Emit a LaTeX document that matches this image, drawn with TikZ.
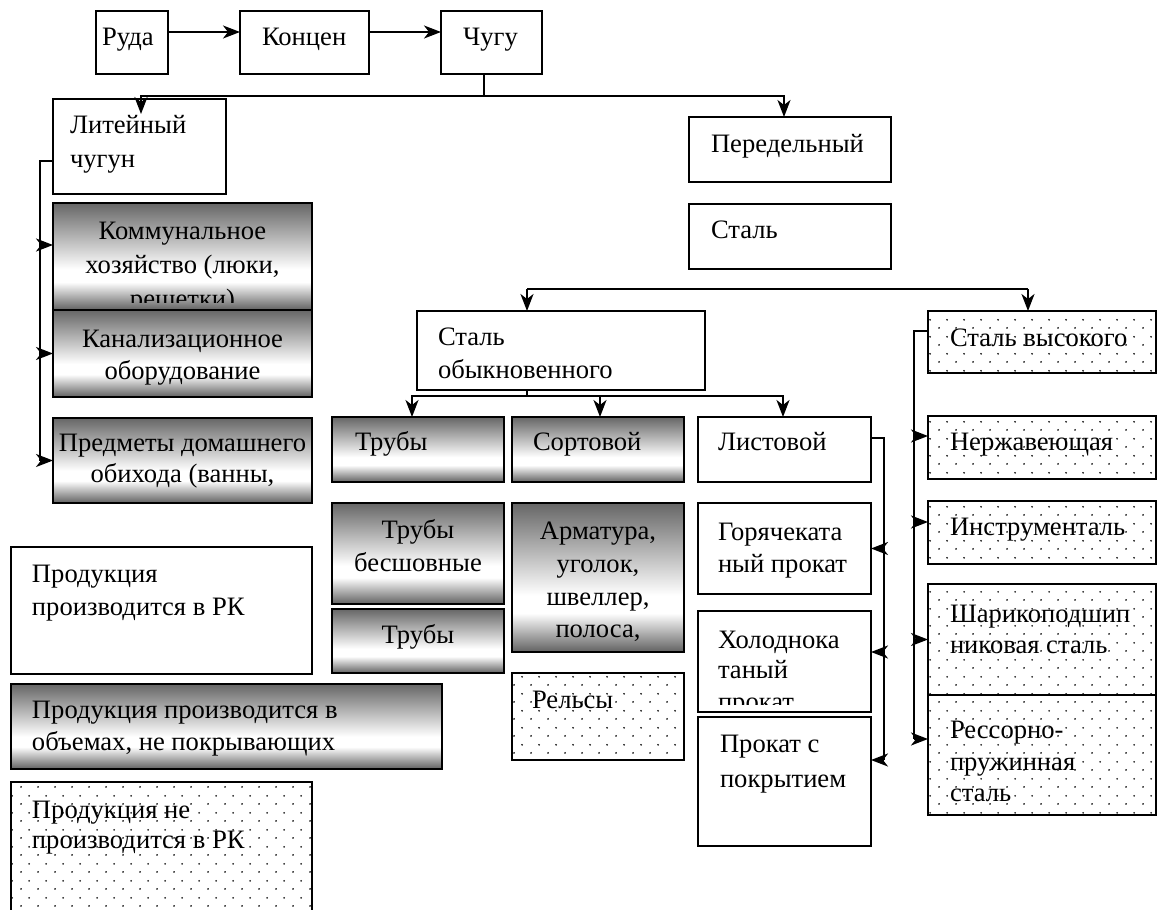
\documentclass[tikz,border=0pt]{standalone}
\usepackage{fontspec}
\setmainfont{Liberation Serif}
\usetikzlibrary{arrows.meta,patterns,fit,calc}
\pgfdeclarepatternformonly{wdots}{\pgfqpoint{0pt}{0pt}}{\pgfqpoint{8.5pt}{8.5pt}}{\pgfqpoint{8.5pt}{8.5pt}}{%
  \pgfpathcircle{\pgfqpoint{2.125pt}{2.125pt}}{0.5pt}%
  \pgfpathcircle{\pgfqpoint{6.375pt}{6.375pt}}{0.5pt}%
  \pgfusepath{fill}}
\pgfdeclareverticalshading{metal}{100bp}{color(0bp)=(black!62); color(25bp)=(black!62); color(38bp)=(white); color(44bp)=(white); color(75bp)=(black!60); color(100bp)=(black!60)}
\tikzset{
  box/.style={draw=black, line width=1.2pt, inner sep=0pt, outer sep=0pt},
  plainbox/.style={box, fill=white},
  metalbox/.style={box, shade, shading=metal},
  dotbox/.style={box, pattern=wdots},
  conn/.style={line width=1pt},
  arr/.style={conn, -{Stealth[length=8.5pt,width=6.5pt,inset=2.5pt]}},
  txt/.style={inner sep=0pt, outer sep=0pt, font=\fontsize{13.3}{16}\selectfont},
}
\newcommand{\txtL}[4]{\node[txt, anchor=base west] (#1) at (#2,#3) {#4};}
\newcommand{\txtC}[4]{\node[txt, anchor=base] (#1) at (#2,#3) {#4};}
\begin{document}
\begin{tikzpicture}[x=0.5pt,y=-0.5pt]
\fill[white] (0,0) rectangle (1157,910);
\useasboundingbox (0,0) rectangle (1157,910);

% ---------- boxes ----------
\node[plainbox, fit={(96,11) (168,74)}] (ruda) {};
\node[plainbox, fit={(240,11) (369,74)}] (konc) {};
\node[plainbox, fit={(441,11) (542,74)}] (chugu) {};
\node[plainbox, fit={(53,99) (226,194)}] (lit) {};
\node[metalbox, fit={(53,203) (312,310)}] (komm) {};
\node[metalbox, fit={(53,310) (312,397)}] (kanal) {};
\node[metalbox, fit={(53,418) (312,503)}] (predm) {};
\node[plainbox, fit={(689,117) (891,182)}] (pered) {};
\node[plainbox, fit={(689,204) (891,269)}] (stal) {};
\node[plainbox, fit={(417,311) (705,390)}] (obyk) {};
\node[metalbox, fit={(332,417) (504,482)}] (truby) {};
\node[metalbox, fit={(512,417) (684,482)}] (sort) {};
\node[plainbox, fit={(698,417) (871,482)}] (list) {};
\node[metalbox, fit={(332,503) (504,604)}] (besh) {};
\node[metalbox, fit={(332,609) (504,673)}] (truby2) {};
\node[metalbox, fit={(512,503) (684,652)}] (armat) {};
\node[dotbox, fit={(512,673) (684,760)}] (rels) {};
\node[plainbox, fit={(698,503) (871,594)}] (gor) {};
\node[plainbox, fit={(698,611) (871,712)}] (hol) {};
\node[plainbox, fit={(698,717) (871,846)}] (pokr) {};
\node[dotbox, fit={(928,311) (1156,373)}] (vys) {};
\node[dotbox, fit={(928,416) (1156,479)}] (nerzh) {};
\node[dotbox, fit={(928,501) (1156,564)}] (instr) {};
\node[dotbox, fit={(928,584) (1156,695)}] (shar) {};
\node[dotbox, fit={(928,695) (1156,815)}] (ress) {};
\node[plainbox, fit={(11,547) (312,674)}] (leg1) {};
\node[metalbox, fit={(11,684) (442,769)}] (leg2) {};
\node[box, draw=none, pattern=wdots, fit={(11,782) (312,914)}] (leg3) {};
\draw[line width=1.2pt] (leg3.south west) -- (leg3.north west) -- (leg3.north east) -- (leg3.south east);

% ---------- texts ----------
\txtL{t1}{102}{46}{Руда}
\txtL{t2}{262}{46}{Концен}
\txtL{t3}{463}{46}{Чугу}
\txtL{t4}{70}{133}{Литейный}
\txtL{t5}{70}{167}{чугун}
\txtC{t6}{182.5}{239}{Коммунальное}
\txtC{t7}{182.5}{273}{хозяйство (люки,}
\begin{scope}
\clip (53,203) rectangle (312,302);
\txtC{t8}{182.5}{307}{решетки)}
\end{scope}
\txtC{t9}{182.5}{347}{Канализационное}
\txtC{t10}{182.5}{379}{оборудование}
\txtC{t11}{182.5}{451}{Предметы домашнего}
\txtC{t12}{182.5}{482}{обихода (ванны,}
\txtL{t13}{711}{152}{Передельный}
\txtL{t14}{711}{238}{Сталь}
\txtL{t15}{438}{345}{Сталь}
\txtL{t16}{438}{378}{обыкновенного}
\txtL{t17}{355}{450}{Трубы}
\txtL{t18}{533}{450}{Сортовой}
\txtL{t19}{718}{450}{Листовой}
\txtC{t20}{418}{538}{Трубы}
\txtC{t21}{418}{571}{бесшовные}
\txtC{t22}{418}{643}{Трубы}
\txtC{t23}{598}{539}{Арматура,}
\txtC{t24}{598}{572}{уголок,}
\txtC{t25}{598}{605}{швеллер,}
\txtC{t26}{598}{637}{полоса,}
\txtL{t27}{532}{708}{Рельсы}
\txtL{t28}{718}{540}{Горячеката}
\txtL{t29}{718}{572}{ный прокат}
\txtL{t30}{718}{648}{Холоднока}
\txtL{t31}{718}{678}{таный}
\begin{scope}
\clip (698,611) rectangle (871,704);
\txtL{t32}{718}{710}{прокат}
\end{scope}
\txtL{t33}{720}{752}{Прокат с}
\txtL{t34}{720}{787}{покрытием}
\txtL{t35}{950}{346}{Сталь высокого}
\txtL{t36}{950}{450}{Нержавеющая}
\txtL{t37}{950}{535}{Инструменталь}
\txtL{t38}{950}{622}{Шарикоподшип}
\txtL{t39}{950}{653}{никовая сталь}
\txtL{t40}{950}{738}{Рессорно-}
\txtL{t41}{950}{770}{пружинная}
\txtL{t42}{950}{801}{сталь}
\txtL{t43}{32}{582}{Продукция}
\txtL{t44}{32}{615}{производится в РК}
\txtL{t45}{32}{718}{Продукция производится в}
\txtL{t46}{32}{750}{объемах, не покрывающих}
\txtL{t47}{32}{818}{Продукция не}
\txtL{t48}{32}{848}{производится в РК}

% ---------- connectors ----------
\draw[arr] ([yshift=-10.5pt]ruda.north east) -- ([yshift=-10.5pt]konc.north west);
\draw[arr] ([yshift=-10.5pt]konc.north east) -- ([yshift=-10.5pt]chugu.north west);
\draw[arr] ([xshift=-3.75pt]chugu.south) -- ++(0,22) -| ([xshift=0.75pt,yshift=-7.5pt]lit.north);
\draw[arr] ([xshift=-3.75pt]chugu.south) -- ++(0,22) -| ([xshift=-3pt]pered.north);

\coordinate (sL) at (527,289);
\coordinate (sR) at (1028,289);
\draw[conn] (sL) -- (sR);
\draw[arr] (sL) -- (sL |- obyk.north);
\draw[arr] (sR) -- (sR |- vys.north);

\coordinate (oj) at (527,396);
\draw[conn] (obyk.south -| oj) -- (oj);
\draw[arr] (oj) -| ([xshift=-3pt]truby.north);
\draw[arr] (oj) -| ([xshift=1pt]sort.north);
\draw[arr] (oj) -| ([xshift=-0.75pt]list.north);

\coordinate (listA) at ([yshift=5.75pt]list.east);
\coordinate (lb) at (884,438);
\coordinate (holA) at ([yshift=4.75pt]hol.east);
\coordinate (pokA) at ([yshift=10.75pt]pokr.east);
\draw[conn] (listA) -- (lb) -- (lb |- pokA);
\draw[arr] (lb |- gor.east) -- (gor.east);
\draw[arr] (lb |- holA) -- (holA);
\draw[arr] (lb |- pokA) -- (pokA);

\coordinate (litA) at ([yshift=-7.25pt]lit.west);
\coordinate (lb2) at (40,161);
\coordinate (kommA) at ([yshift=5.75pt]komm.west);
\draw[conn] (litA) -- (lb2) -- (lb2 |- predm.west);
\draw[arr] (lb2 |- kommA) -- (kommA);
\draw[arr] (lb2 |- kanal.west) -- (kanal.west);
\draw[arr] (lb2 |- predm.west) -- (predm.west);

\coordinate (vysA) at ([yshift=5.5pt]vys.west);
\coordinate (rb) at (914,331);
\coordinate (nerzhA) at ([yshift=5.75pt]nerzh.west);
\coordinate (instrA) at ([yshift=5.25pt]instr.west);
\coordinate (ressA) at ([yshift=8pt]ress.west);
\draw[conn] (vysA) -- (rb) -- (rb |- ressA);
\draw[arr] (rb |- nerzhA) -- (nerzhA);
\draw[arr] (rb |- instrA) -- (instrA);
\draw[arr] (rb |- shar.west) -- (shar.west);
\draw[arr] (rb |- ressA) -- (ressA);
\end{tikzpicture}
\end{document}
